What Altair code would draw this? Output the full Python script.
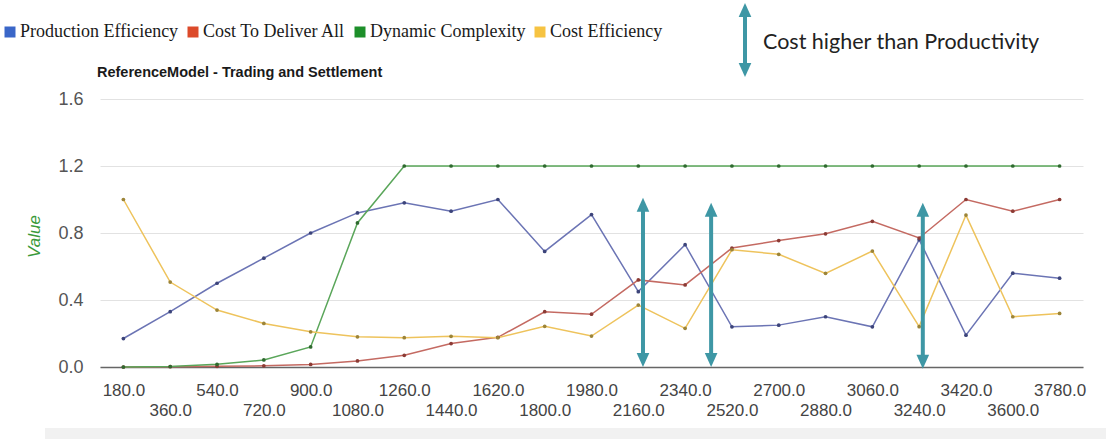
import altair as alt
import pandas as pd

# ---------------- data ----------------
x_values = [180.0, 360.0, 540.0, 720.0, 900.0, 1080.0, 1260.0, 1440.0, 1620.0, 1800.0,
            1980.0, 2160.0, 2340.0, 2520.0, 2700.0, 2880.0, 3060.0, 3240.0, 3420.0,
            3600.0, 3780.0]

production_efficiency = [0.17, 0.33, 0.50, 0.65, 0.80, 0.92, 0.98, 0.93, 1.00, 0.69, 0.91,
                         0.45, 0.73, 0.24, 0.25, 0.30, 0.24, 0.76, 0.19, 0.56, 0.53]
cost_to_deliver_all = [0.0, 0.002, 0.004, 0.007, 0.015, 0.036, 0.07, 0.14, 0.177, 0.33, 0.315,
                       0.52, 0.49, 0.71, 0.755, 0.795, 0.87, 0.77, 1.0, 0.93, 1.0]
dynamic_complexity = [0.0, 0.003, 0.016, 0.042, 0.12, 0.86, 1.2, 1.2, 1.2, 1.2, 1.2,
                      1.2, 1.2, 1.2, 1.2, 1.2, 1.2, 1.2, 1.2, 1.2, 1.2]
cost_efficiency = [1.0, 0.507, 0.34, 0.26, 0.21, 0.18, 0.175, 0.183, 0.175, 0.243, 0.185,
                   0.37, 0.231, 0.70, 0.673, 0.559, 0.692, 0.241, 0.907, 0.30, 0.32]

series_names = ["Production Efficiency", "Cost To Deliver All", "Dynamic Complexity", "Cost Efficiency"]
series_values = [production_efficiency, cost_to_deliver_all, dynamic_complexity, cost_efficiency]

legend_colors = ["#3a66c8", "#dc4a2a", "#1d8f2a", "#f6c342"]
line_colors = ["#6b74b4", "#c46a62", "#5aa65a", "#eec35c"]
dot_colors = ["#3c447a", "#8c3b35", "#2f6a2f", "#9c8438"]

# annotation arrows ("Cost higher than Productivity")
arrow_x = [2178.0, 2440.0, 3254.0]
arrow_top = [1.01, 0.98, 0.98]
arrow_bottom = [0.0, 0.0, -0.01]

title_text = "ReferenceModel - Trading and Settlement"
note_text = "Cost higher than Productivity"
y_ticks = [0.0, 0.4, 0.8, 1.2, 1.6]

TEAL = "#3e97a5"

rows = []
for name, vals in zip(series_names, series_values):
    for xv, v in zip(x_values, vals):
        rows.append({"series": name, "x": xv, "value": v})
df = pd.DataFrame(rows)
df_first = df.groupby("series", as_index=False).first()
df_arrows = pd.DataFrame({"x": arrow_x, "top": arrow_top, "bottom": arrow_bottom})

# ---------------- scales / axes ----------------
xscale = alt.Scale(domain=[90, 3870], nice=False, zero=False)
yscale = alt.Scale(domain=[0, 1.6], nice=False)

xaxis = alt.Axis(
    values=x_values, format=".1f", grid=False, ticks=False,
    domainColor="#666666", domainWidth=1.5,
    labelFont="Liberation Sans", labelFontSize=17, labelColor="#444444",
    labelPadding={"condition": {"test": "datum.value % 360 == 0", "value": 35}, "value": 15},
    labelOverlap=False, labelFlush=False, labelBound=False, title=None,
)
yaxis = alt.Axis(
    values=y_ticks, format=".1f", grid=True, gridColor="#e2e2e2", gridWidth=1,
    ticks=False, domain=False,
    labelFont="Liberation Sans", labelFontSize=18, labelColor="#555555", labelPadding=17,
    title="Value", titleColor="#3a9a3a", titleFont="Liberation Sans", titleFontSize=17,
    titleFontStyle="italic", titleFontWeight="normal", titleX=-57, titleY=137,
)

X = lambda: alt.X("x:Q", scale=xscale, title=None)
Y = lambda f="value:Q": alt.Y(f, scale=yscale, title="Value")

lines = alt.Chart(df).mark_line(strokeWidth=1.5).encode(
    x=alt.X("x:Q", scale=xscale, axis=xaxis),
    y=alt.Y("value:Q", scale=yscale, axis=yaxis),
    color=alt.Color("series:N", scale=alt.Scale(domain=series_names, range=line_colors), legend=None),
)

dots = alt.Chart(df).mark_circle(size=14, opacity=1).encode(
    x=X(), y=Y(),
    color=alt.Color("series:N", scale=alt.Scale(domain=series_names, range=dot_colors), legend=None),
)

legend_layer = alt.Chart(df_first).mark_square(opacity=0, size=4).encode(
    x=X(), y=Y(),
    color=alt.Color(
        "series:N",
        scale=alt.Scale(domain=series_names, range=legend_colors),
        legend=alt.Legend(
            title=None, orient="none", legendX=-99, legendY=-76, direction="horizontal",
            symbolType="square", symbolSize=121, symbolOpacity=1, symbolStrokeWidth=0,
            labelFont="Liberation Serif", labelFontSize=18, labelColor="#1a1a1a",
            labelOffset=1, columnPadding=5, labelLimit=400,
        ),
    ),
)

HEAD = 0.075
shafts = alt.Chart(df_arrows).transform_calculate(
    s_top=f"datum.top - {HEAD}", s_bot=f"datum.bottom + {HEAD}"
).mark_rule(strokeWidth=4, color=TEAL).encode(
    x=X(), y=Y("s_top:Q"), y2="s_bot:Q",
)
UP = "M0,0L-0.5,1.1L0.5,1.1Z"
DOWN = "M0,0L-0.5,-1.1L0.5,-1.1Z"
heads_up = alt.Chart(df_arrows).mark_point(shape=UP, filled=True, size=640, color=TEAL, opacity=1, strokeWidth=0).encode(
    x=X(), y=Y("top:Q"),
)
heads_down = alt.Chart(df_arrows).mark_point(shape=DOWN, filled=True, size=640, color=TEAL, opacity=1, strokeWidth=0).encode(
    x=X(), y=Y("bottom:Q"),
)

# header decorations (pixel positions relative to plot origin)
ann = pd.DataFrame({"t": [note_text]})
title_mark = alt.Chart(pd.DataFrame({"t": [title_text]})).mark_text(
    align="left", baseline="middle", font="Liberation Sans", fontSize=14.5,
    fontWeight="bold", color="#1a1a1a"
).encode(x=alt.value(-3), y=alt.value(-26), text="t:N")
note_mark = alt.Chart(ann).mark_text(
    align="left", baseline="middle", font="Lato", fontSize=21.5, color="#222222"
).encode(x=alt.value(663), y=alt.value(-56), text="t:N")
note_shaft = alt.Chart(ann).mark_rule(strokeWidth=4, color=TEAL).encode(
    x=alt.value(645), y=alt.value(-85), y2=alt.value(-33)
)
note_up = alt.Chart(ann).mark_point(shape=UP, filled=True, size=640, color=TEAL, opacity=1, strokeWidth=0).encode(
    x=alt.value(645), y=alt.value(-96)
)
note_down = alt.Chart(ann).mark_point(shape=DOWN, filled=True, size=640, color=TEAL, opacity=1, strokeWidth=0).encode(
    x=alt.value(645), y=alt.value(-22)
)
band = alt.Chart(ann).mark_rect(color="#f1f1f1").encode(
    x=alt.value(-55), x2=alt.value(1006), y=alt.value(329), y2=alt.value(340)
)

chart = alt.layer(
    band, lines, dots, legend_layer, shafts, heads_up, heads_down,
    title_mark, note_mark, note_shaft, note_up, note_down,
).resolve_scale(color="independent").properties(
    width=983, height=268,
    padding={"left": 100, "top": 99, "right": 23, "bottom": 72},
    autosize=alt.AutoSizeParams(type="none"),
    background="white",
).configure_view(stroke=None, clip=False)

chart.save("out.html", embed_options={"renderer": "svg", "actions": False})
